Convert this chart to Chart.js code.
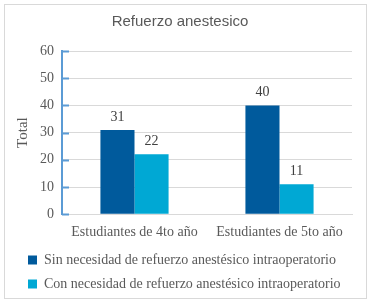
<!DOCTYPE html>
<html>
<head>
<meta charset="utf-8">
<script src="https://cdn.jsdelivr.net/npm/chart.js@4"></script>
<style>
  html, body { margin: 0; padding: 0; background: #fff; }
  #wrap { position: relative; width: 371px; height: 303px; }
  #frame { position: absolute; left: 4px; top: 4px; width: 361px; height: 293px;
           border: 1px solid #d9d9d9; pointer-events: none; }
</style>
</head>
<body>
<div id="wrap">
  <canvas id="chart" width="371" height="303"></canvas>
  <div id="frame"></div>
</div>
<script>
const categories = ["Estudiantes de 4to año", "Estudiantes de 5to año"];
const sinRefuerzo = [31, 40];
const conRefuerzo = [22, 11];
const seriesNames = [
  "Sin necesidad de refuerzo anestésico intraoperatorio",
  "Con necesidad de refuerzo anestésico intraoperatorio",
];
const yTicks = [0, 10, 20, 30, 40, 50, 60];

const serif = "'Liberation Serif', serif";

// etiquetas de valor encima de cada barra
const valueLabels = {
  id: "valueLabels",
  afterDatasetsDraw(chart) {
    const ctx = chart.ctx;
    ctx.save();
    ctx.font = "14px " + serif;
    ctx.fillStyle = "#404040";
    ctx.textAlign = "center";
    ctx.textBaseline = "bottom";
    chart.data.datasets.forEach((ds, i) => {
      chart.getDatasetMeta(i).data.forEach((bar, j) => {
        ctx.fillText(ds.data[j], bar.x, bar.y - 6);
      });
    });
    ctx.restore();
  },
};

// marcas del eje Y hacia dentro, como en Excel
const innerTicks = {
  id: "innerTicks",
  afterDraw(chart) {
    const y = chart.scales.y;
    const ctx = chart.ctx;
    ctx.save();
    ctx.strokeStyle = "#5b9bd5";
    ctx.lineWidth = 2;
    yTicks.forEach((v) => {
      const py = Math.round(y.getPixelForValue(v)) + 0.5;
      ctx.beginPath();
      ctx.moveTo(y.right, py);
      ctx.lineTo(y.right + 7, py);
      ctx.stroke();
    });
    ctx.restore();
  },
};

// correr la leyenda un poco a la derecha
const legendShift = {
  id: "legendShift",
  afterUpdate(chart) {
    chart.legend.left += 10;
    chart.legend.right += 10;
  },
};

new Chart(document.getElementById("chart"), {
  type: "bar",
  data: {
    labels: categories,
    datasets: [
      {
        label: seriesNames[0],
        data: sinRefuerzo,
        backgroundColor: "#005a9c",
        borderWidth: 0,
      },
      {
        label: seriesNames[1],
        data: conRefuerzo,
        backgroundColor: "#00a8d4",
        borderWidth: 0,
      },
    ],
  },
  options: {
    responsive: false,
    animation: false,
    datasets: {
      bar: { barPercentage: 1, categoryPercentage: 0.47 },
    },
    layout: { padding: { left: 8, right: 19, top: 6, bottom: 2 } },
    plugins: {
      title: {
        display: true,
        text: "Refuerzo anestesico",
        color: "#595959",
        font: { family: "'Liberation Sans', Arial, sans-serif", size: 15, weight: "normal" },
        padding: { top: 7, bottom: 20 },
      },
      legend: {
        position: "bottom",
        align: "start",
        labels: {
          color: "#595959",
          font: { family: serif, size: 14 },
          boxWidth: 9,
          boxHeight: 9,
          padding: 10,
        },
      },
      tooltip: { enabled: false },
    },
    scales: {
      x: {
        grid: { display: false },
        border: { color: "#d9d9d9", width: 1 },
        ticks: {
          color: "#595959",
          font: { family: serif, size: 14 },
          padding: 2,
        },
      },
      y: {
        min: 0,
        max: 60,
        afterBuildTicks(scale) {
          scale.ticks = yTicks.map((v) => ({ value: v }));
        },
        border: { color: "#5b9bd5", width: 2 },
        grid: { color: "#d9d9d9", drawTicks: false },
        ticks: {
          color: "#595959",
          font: { family: serif, size: 14 },
          padding: 8,
        },
        title: {
          display: true,
          text: "Total",
          color: "#595959",
          font: { family: serif, size: 15 },
          padding: { top: 6, bottom: 0 },
        },
      },
    },
  },
  plugins: [valueLabels, innerTicks, legendShift],
});
</script>
</body>
</html>
